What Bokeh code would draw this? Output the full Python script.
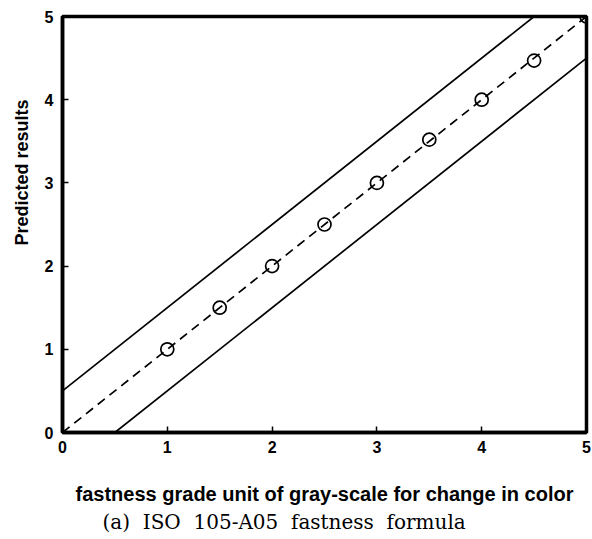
from bokeh.plotting import figure
from bokeh.models import Range1d, FixedTicker, Title
from bokeh.embed import file_html
from bokeh.resources import INLINE

# data
grade = [1.0, 1.5, 2.0, 2.5, 3.0, 3.5, 4.0, 4.5, 5.0]
predicted = [1.0, 1.5, 2.0, 2.5, 3.0, 3.52, 4.0, 4.47, 5.0]
ideal_x = [0, 5]
ideal_y = [0, 5]
upper_x = [0, 4.5]
upper_y = [0.5, 5]
lower_x = [0.5, 5]
lower_y = [0, 4.5]
ticks = [0, 1, 2, 3, 4, 5]

p = figure(width=592, height=539, output_backend="svg", toolbar_location=None,
           x_range=Range1d(0, 5), y_range=Range1d(0, 5),
           min_border_left=62, min_border_right=6, min_border_top=16, min_border_bottom=107)
p.grid.visible = False
p.background_fill_color = "white"
p.border_fill_color = "white"
p.outline_line_color = "black"
p.outline_line_width = 3.5

p.line(ideal_x, ideal_y, line_color="black", line_width=1.7, line_dash="9 6")
p.line(upper_x, upper_y, line_color="black", line_width=1.7)
p.line(lower_x, lower_y, line_color="black", line_width=1.7)
p.scatter(grade, predicted, marker="circle", size=13, fill_color=None,
          line_color="black", line_width=1.7)

for ax in (p.xaxis[0], p.yaxis[0]):
    ax.ticker = FixedTicker(ticks=ticks)
    ax.axis_line_width = 3.5
    ax.axis_line_color = "black"
    ax.major_tick_in = 6
    ax.major_tick_out = 0
    ax.major_tick_line_width = 1.5
    ax.minor_tick_line_color = None
    ax.major_label_text_font = "Liberation Sans"
    ax.major_label_text_font_style = "bold"
    ax.major_label_text_font_size = "16px"
    ax.major_label_text_color = "black"
    ax.axis_label_text_font = "Liberation Sans"
    ax.axis_label_text_font_style = "bold"
    ax.axis_label_text_color = "black"

p.xaxis[0].axis_label = "fastness grade unit of gray-scale for change in color"
p.xaxis[0].axis_label_text_font_size = "20px"
p.xaxis[0].major_label_standoff = 8
p.xaxis[0].axis_label_standoff = 27

p.yaxis[0].major_label_standoff = 9

ylab = Title(text="Predicted results", align="left", offset=187, vertical_align="top",
             text_font="Liberation Sans", text_font_size="18px", text_line_height=1.0,
             text_font_style="bold", text_color="black", standoff=16)
p.add_layout(ylab, "left")

cap = Title(text="(a)\u00a0 ISO\u00a0 105-A05\u00a0 fastness\u00a0 formula", align="left", offset=40,
            text_font="DejaVu Serif", text_font_size="20px",
            text_font_style="normal", text_color="black", standoff=0)
p.add_layout(cap, "below")

open("out.html", "w").write(file_html(p, INLINE))
